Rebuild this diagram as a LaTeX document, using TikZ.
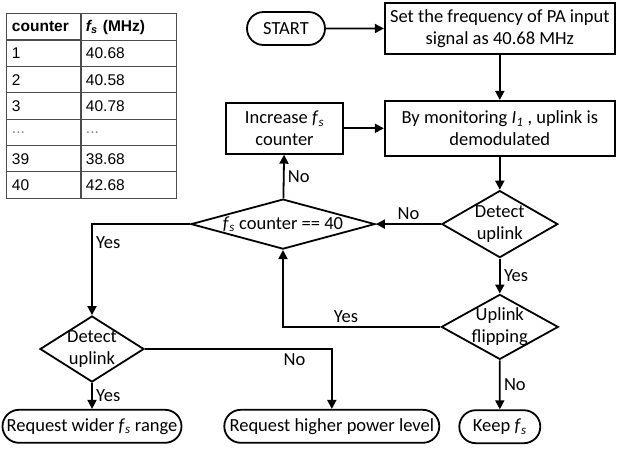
\documentclass[tikz,border=0pt]{standalone}
\usepackage{fontspec}
\setmainfont{Carlito}
\newfontfamily\tabfont{Liberation Sans}
\usetikzlibrary{arrows.meta, positioning, matrix, shapes.geometric, shapes.misc, calc}
\newcommand{\Fs}{\textit{f}\textsubscript{\textit{s}}}
\newcommand{\Cur}[1]{\textit{I}\textsubscript{\textit{#1}}}
\tikzset{
    block/.style={draw, rectangle, align=center, line width=1.8pt, inner sep=2pt},
    term/.style={draw, rounded rectangle, line width=1.8pt, minimum height=33pt, inner sep=2pt},
    decide/.style={draw, diamond, align=center, line width=1.8pt, inner sep=-8pt},
    flow/.style={-{Triangle[length=9pt, width=9pt]}, line width=1.8pt},
    cell/.style={draw=black!70, line width=1pt, minimum height=26.3pt, inner xsep=5pt, inner ysep=0pt, align=left},
}

\begin{document}
\begin{tikzpicture}[x=1pt, y=-1pt, font=\fontsize{18.5}{22}\selectfont]
    \useasboundingbox (0,0) rectangle (618,448);

    % table of frequencies
    \matrix[matrix of nodes, anchor=north west, inner sep=0pt, outer sep=0pt, row sep=-1pt, column sep=-1pt,
      nodes={cell, font=\tabfont\fontsize{15.5}{18}\selectfont},
      column 1/.style={nodes={text width=64pt}},
      column 2/.style={nodes={text width=85pt}}] (tab) at (6.5,12.5) {
      \textbf{counter} & \textbf{{\itshape f}\textsubscript{\itshape s} (MHz)} \\
      1 & 40.68 \\
      2 & 40.58 \\
      3 & 40.78 \\
      |[text=black!50]| ... & |[text=black!50]| ... \\
      39 & 38.68 \\
      40 & 42.68 \\
    };

    \node[term, minimum width=82pt] (start) at (286,28.5) {START};
    \node[block, minimum width=230pt, minimum height=51pt, right=58pt of start] (setf) {Set the frequency of PA input\\signal as 40.68 MHz};
    \node[block, minimum width=230pt, minimum height=55pt, below=45pt of setf] (monitor) {By monitoring \Cur{1} , uplink is\\demodulated};
    \node[block, minimum width=117pt, minimum height=51pt, left=40pt of monitor] (incr) {Increase \Fs\\counter};
    \node[decide, minimum width=116pt, minimum height=67pt, shape aspect=1.73, below=33pt of monitor] (det) {Detect\\uplink};
    \node[decide, minimum width=184pt, minimum height=50pt, shape aspect=3.68, left=65pt of det] (cnt) {\Fs\ counter == 40};
    \node[decide, minimum width=117pt, minimum height=65pt, shape aspect=1.8, below=35pt of det] (flip) {Uplink\\flipping};
    \node[term, minimum width=85pt, below=49pt of flip] (keep) {Keep \Fs};

    \node[decide, minimum width=104pt, minimum height=66pt, shape aspect=1.58] (det2) at (92,349) {Detect\\uplink};
    \node[term, minimum width=183pt, below=26pt of det2] (wide) {Request wider \Fs\ range};
    \node[term, minimum width=219pt, right=41pt of wide] (power) {Request higher power level};

    \draw[flow] (start) -- (setf);
    \draw[flow] (setf) -- (monitor);
    \draw[flow] (incr) -- (monitor);
    \draw[flow] (monitor) -- (det);
    \draw[flow] (det) -- node[above]{No} (cnt);
    \draw[flow] (det) -- node[right]{Yes} (flip);
    \draw[flow] (cnt) -- node[right]{No} (incr);
    \draw[flow] (flip) -| node[above, pos=0.3]{Yes} (cnt);
    \draw[flow] (cnt) -| node[right, pos=0.6]{Yes} (det2);
    \draw[flow] (det2) -- node[right]{Yes} (wide);
    \draw[flow] (det2) -| node[below, pos=0.4]{No} (power);
    \draw[flow] (flip) -- node[right]{No} (keep);
\end{tikzpicture}
\end{document}
